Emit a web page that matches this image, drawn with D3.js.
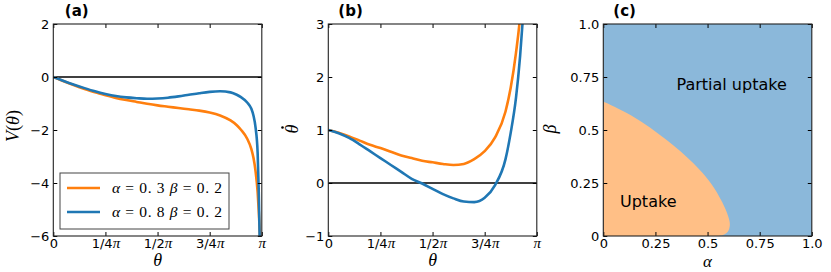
<!DOCTYPE html>
<meta charset="utf-8">
<title>potential, velocity and phase diagram</title>
<style>
body {
  margin: 0px;
}
svg {
  background-color: #fff;
}
.tick text {
  font-family: "DejaVu Sans", sans-serif;
  font-size: 13px;
  fill: #000;
}
.tick line {
  stroke: #000;
}
.math {
  font-family: "Liberation Serif", serif;
}
.title {
  font-family: "DejaVu Sans", sans-serif;
  font-weight: bold;
  font-size: 15px;
}
</style>

<script src="https://cdn.jsdelivr.net/npm/d3@7"></script>

<body>
<script>
var width = 831, height = 272;
var plotTop = 24, plotH = 212, plotW = 208.5;
var lefts = [53.3, 328.3, 603.3];

// panel (a): V(theta), theta in units of pi
var thetaA = [0, .05, .1, .15, .2, .25, .3, .35, .4, .45, .5, .55, .6, .65, .7, .75, .8, .85, .88, .9, .93, .95, .96, .97, .98, .985, .99, .995, 1];
var vOrange = [0, -.16, -.31, -.45, -.58, -.69, -.79, -.87, -.94, -1.01, -1.07, -1.12, -1.17, -1.22, -1.27, -1.34, -1.45, -1.64, -1.82, -1.99, -2.33, -2.72, -3.05, -3.55, -4.35, -5.0, -5.8, -7, -9];
var vBlue = [0, -.15, -.29, -.42, -.54, -.64, -.72, -.77, -.80, -.82, -.81, -.78, -.73, -.67, -.61, -.56, -.54, -.58, -.67, -.76, -.96, -1.2, -1.45, -1.9, -2.85, -4.2, -6.2, -8, -10];

// panel (b): theta dot
var thetaB = [0, .05, .1, .15, .2, .25, .3, .35, .4, .45, .5, .55, .6, .65, .7, .75, .8, .85, .875, .9, .92, .935];
var dOrange = [1.0, .95, .88, .80, .72, .66, .59, .52, .47, .42, .39, .36, .34, .36, .45, .60, .86, 1.35, 1.80, 2.45, 3.15, 4.0];
var dBlue = [1.0, .94, .85, .73, .60, .47, .34, .21, .08, -.01, -.11, -.21, -.29, -.35, -.36, -.28, -.04, .45, .95, 1.6, 2.4, 3.2];

// panel (c): boundary of the uptake region
var boundAlpha = [0, .144, .304, .432, .515, .57, .6, .607, .6, .58, .55];
var boundBeta = [.634, .563, .453, .343, .25, .16, .09, .055, .025, .007, 0];

var piTicks = [0, .25, .5, .75, 1];
var piLabels = ["0", "1/4", "1/2", "3/4", ""];
var cTicks = [0, .25, .5, .75, 1];
var cLabels = ["0", "0.25", "0.5", "0.75", "1.0"];
var legendLabels = [["0. 3", "0. 2"], ["0. 8", "0. 2"]];

var orange = "#ff7f0e", blue = "#1f77b4";

var svg = d3.select("body").append("svg")
    .attr("width", width)
    .attr("height", height);

function makeAxes(g, x, y, xticks, yticks, xfmt, yfmt) {
  var h = plotTop + plotH;
  g.append("g").attr("class", "xaxis").attr("transform", "translate(0," + h + ")")
    .call(d3.axisBottom(x).tickValues(xticks).tickSize(-4).tickPadding(3).tickFormat(xfmt))
    .call(function(s) { s.select(".domain").remove(); });
  g.append("g").attr("transform", "translate(0," + plotTop + ")")
    .call(d3.axisTop(x).tickValues(xticks).tickSize(-4).tickFormat(""))
    .call(function(s) { s.select(".domain").remove(); });
  g.append("g").attr("transform", "translate(" + x.range()[0] + ",0)")
    .call(d3.axisLeft(y).tickValues(yticks).tickSize(-4).tickPadding(4).tickFormat(yfmt))
    .call(function(s) { s.select(".domain").remove(); });
  g.append("g").attr("transform", "translate(" + x.range()[1] + ",0)")
    .call(d3.axisRight(y).tickValues(yticks).tickSize(-4).tickFormat(""))
    .call(function(s) { s.select(".domain").remove(); });
  g.selectAll(".tick text").attr("font-family", null).attr("font-size", null);
}

function frame(g, x) {
  g.append("rect")
    .attr("x", x.range()[0]).attr("y", plotTop)
    .attr("width", plotW).attr("height", plotH)
    .attr("fill", "none").attr("stroke", "#222").attr("stroke-width", 1.1);
}

function piTickText(g) {
  g.select(".xaxis").selectAll(".tick text").each(function(d, i) {
    if (i == 0) return;
    d3.select(this).append("tspan").attr("class", "math").style("font-style", "italic")
      .style("font-size", "15px").text("π");
  });
}

function thetaLabel(g, x) {
  g.append("text").attr("class", "math")
    .attr("x", (x.range()[0] + x.range()[1]) / 2).attr("y", 266)
    .attr("text-anchor", "middle").style("font-style", "italic").style("font-size", "18px")
    .text("θ");
}

function clip(id, x) {
  svg.append("clipPath").attr("id", id).append("rect")
    .attr("x", x.range()[0]).attr("y", plotTop).attr("width", plotW).attr("height", plotH);
}

/* ---- panel (a) ---- */
var xa = d3.scaleLinear().domain([0, 1]).range([lefts[0], lefts[0] + plotW]);
var ya = d3.scaleLinear().domain([-6, 2]).range([plotTop + plotH, plotTop]);
var ga = svg.append("g");
clip("clipa", xa);

ga.append("line")
  .attr("x1", xa(0)).attr("x2", xa(1)).attr("y1", ya(0)).attr("y2", ya(0))
  .attr("stroke", "#000").attr("stroke-width", 1.5);

var lineA = d3.line().curve(d3.curveMonotoneX)
  .x(function(d) { return xa(d[0]); }).y(function(d) { return ya(d[1]); });

ga.append("path").attr("clip-path", "url(#clipa)")
  .attr("d", lineA(d3.zip(thetaA, vOrange)))
  .attr("fill", "none").attr("stroke", orange).attr("stroke-width", 2.6);
ga.append("path").attr("clip-path", "url(#clipa)")
  .attr("d", lineA(d3.zip(thetaA, vBlue)))
  .attr("fill", "none").attr("stroke", blue).attr("stroke-width", 2.6);

makeAxes(ga, xa, ya, piTicks, [-6, -4, -2, 0, 2],
  function(d, i) { return piLabels[i]; }, d3.format("d"));
piTickText(ga);
frame(ga, xa);
thetaLabel(ga, xa);

var vlab = ga.append("text").attr("class", "math")
  .attr("transform", "translate(19,126) rotate(-90)")
  .attr("text-anchor", "middle").style("font-size", "18px");
vlab.append("tspan").style("font-style", "italic").text("V");
vlab.append("tspan").text("(");
vlab.append("tspan").style("font-style", "italic").text("θ");
vlab.append("tspan").text(")");

// legend
var leg = ga.append("g");
leg.append("rect").attr("x", 60).attr("y", 173).attr("width", 169).attr("height", 56)
  .attr("fill", "#fff").attr("stroke", "#444").attr("stroke-width", 1);
[orange, blue].forEach(function(c, i) {
  var yy = 188 + i * 24;
  leg.append("line").attr("x1", 67).attr("x2", 100).attr("y1", yy).attr("y2", yy)
    .attr("stroke", c).attr("stroke-width", 2.6);
  var t = leg.append("text").attr("class", "math")
    .attr("x", 112).attr("y", yy + 5).style("font-size", "15.5px")
    .attr("textLength", 110).attr("lengthAdjust", "spacing");
  t.append("tspan").style("font-style", "italic").text("α");
  t.append("tspan").text(" = " + legendLabels[i][0] + " ");
  t.append("tspan").style("font-style", "italic").text("β");
  t.append("tspan").text(" = " + legendLabels[i][1]);
});

ga.append("text").attr("class", "title").attr("x", lefts[0] + 11.5).attr("y", 16).text("(a)");

/* ---- panel (b) ---- */
var xb = d3.scaleLinear().domain([0, 1]).range([lefts[1], lefts[1] + plotW]);
var yb = d3.scaleLinear().domain([-1, 3]).range([plotTop + plotH, plotTop]);
var gb = svg.append("g");
clip("clipb", xb);

gb.append("line")
  .attr("x1", xb(0)).attr("x2", xb(1)).attr("y1", yb(0)).attr("y2", yb(0))
  .attr("stroke", "#000").attr("stroke-width", 1.5);

var lineB = d3.line().curve(d3.curveMonotoneX)
  .x(function(d) { return xb(d[0]); }).y(function(d) { return yb(d[1]); });

gb.append("path").attr("clip-path", "url(#clipb)")
  .attr("d", lineB(d3.zip(thetaB, dOrange)))
  .attr("fill", "none").attr("stroke", orange).attr("stroke-width", 2.6);
gb.append("path").attr("clip-path", "url(#clipb)")
  .attr("d", lineB(d3.zip(thetaB, dBlue)))
  .attr("fill", "none").attr("stroke", blue).attr("stroke-width", 2.6);

makeAxes(gb, xb, yb, piTicks, [-1, 0, 1, 2, 3],
  function(d, i) { return piLabels[i]; }, d3.format("d"));
piTickText(gb);
frame(gb, xb);
thetaLabel(gb, xb);

// theta with a dot over it, rotated
var tdot = gb.append("g").attr("transform", "translate(298,129) rotate(-90)");
tdot.append("text").attr("class", "math")
  .attr("text-anchor", "middle").style("font-size", "18px").style("font-style", "italic")
  .text("θ");
tdot.append("circle").attr("cx", 1.5).attr("cy", -15.5).attr("r", 1.3).attr("fill", "#000");

gb.append("text").attr("class", "title").attr("x", lefts[1] + 10).attr("y", 16).text("(b)");

/* ---- panel (c) ---- */
var xc = d3.scaleLinear().domain([0, 1]).range([lefts[2], lefts[2] + plotW]);
var yc = d3.scaleLinear().domain([0, 1]).range([plotTop + plotH, plotTop]);
var gc = svg.append("g");

gc.append("rect").attr("x", xc(0)).attr("y", yc(1))
  .attr("width", xc(1) - xc(0)).attr("height", yc(0) - yc(1))
  .attr("fill", "#8bb8da");

var lineC = d3.line().curve(d3.curveCatmullRom)
  .x(function(d) { return xc(d[0]); }).y(function(d) { return yc(d[1]); });
gc.append("path")
  .attr("d", lineC(d3.zip(boundAlpha, boundBeta)) + "L" + xc(0) + "," + yc(0) + "Z")
  .attr("fill", "#ffbf86");

makeAxes(gc, xc, yc, cTicks, cTicks,
  function(d, i) { return cLabels[i]; },
  function(d, i) { return cLabels[i]; });
frame(gc, xc);

gc.append("text").attr("x", 676.5).attr("y", 90)
  .style("font-family", "DejaVu Sans").style("font-size", "16px").text("Partial uptake");
gc.append("text").attr("x", 620).attr("y", 207)
  .style("font-family", "DejaVu Sans").style("font-size", "16px").text("Uptake");

gc.append("text").attr("class", "math")
  .attr("x", (xc(0) + xc(1)) / 2).attr("y", 267)
  .attr("text-anchor", "middle").style("font-style", "italic").style("font-size", "17px")
  .text("α");
gc.append("text").attr("class", "math")
  .attr("transform", "translate(556,129) rotate(-90)")
  .attr("text-anchor", "middle").style("font-style", "italic").style("font-size", "18px")
  .text("β");

gc.append("text").attr("class", "title").attr("x", lefts[2] + 10).attr("y", 16).text("(c)");
</script>
